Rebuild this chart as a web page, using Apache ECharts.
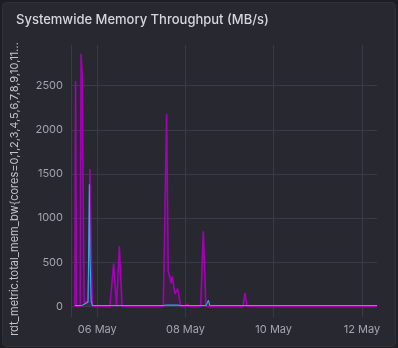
<!DOCTYPE html>
<html><head><meta charset="utf-8">
<script src="https://cdn.jsdelivr.net/npm/echarts@6/dist/echarts.min.js"></script>
<style>html,body{margin:0;padding:0;background:#1d1d23;}#c{width:398px;height:348px;}</style>
</head><body><div id="c"></div>
<script>
const times = [
  '2024-05-05 11:50','2024-05-05 12:10','2024-05-05 12:45','2024-05-05 14:40','2024-05-05 15:10',
  '2024-05-05 15:50','2024-05-05 16:50','2024-05-05 17:40','2024-05-05 18:40','2024-05-05 19:00',
  '2024-05-05 19:40','2024-05-05 20:00','2024-05-05 20:40','2024-05-05 21:20',
  '2024-05-06 06:50','2024-05-06 08:55','2024-05-06 10:30','2024-05-06 12:00','2024-05-06 13:30',
  '2024-05-07 11:55','2024-05-07 13:45','2024-05-07 14:35','2024-05-07 15:35','2024-05-07 16:05',
  '2024-05-07 16:50','2024-05-07 18:15','2024-05-07 19:45','2024-05-07 20:30','2024-05-07 21:25',
  '2024-05-08 00:20','2024-05-08 01:00','2024-05-08 01:40',
  '2024-05-08 08:16','2024-05-08 09:41','2024-05-08 11:09',
  '2024-05-08 12:05','2024-05-08 12:31','2024-05-08 13:10',
  '2024-05-09 07:16','2024-05-09 08:22','2024-05-09 09:28',
  '2024-05-12 08:13'
];
const memBwMagenta = [
  0, 2550, 0, 0, 2860,
  2600, 40, 50, 60, 70,
  500, 1557, 700, 0,
  0, 485, 0, 682, 0,
  0, 2180, 400, 333, 261,
  341, 144, 201, 182, 0,
  0, 30, 0,
  0, 850, 0,
  0, 0, 0,
  0, 150, 0,
  0
];
const memBwBlue = [
  12, 12, 12, 12, 12,
  14, 20, 35, 45, 50,
  1383, 600, 60, 12,
  12, 12, 12, 12, 12,
  12, 15, 15, 15, 15,
  15, 15, 15, 15, 12,
  12, 12, 12,
  12, 12, 12,
  12, 70, 12,
  12, 12, 12,
  12
];
const yTicks = [0, 500, 1000, 1500, 2000, 2500];
const xTicks = ['2024-05-06 00:00','2024-05-08 00:00','2024-05-10 00:00','2024-05-12 00:00'];

const gridColor = '#393a44';
const labelColor = '#a3a4ad';
const chart = echarts.init(document.getElementById('c'), null, {renderer: 'canvas'});
chart.setOption({
  backgroundColor: '#1d1d23',
  animation: false,
  graphic: [{
    type: 'rect', z: -10, silent: true,
    shape: {x: 2.5, y: 2.5, width: 393, height: 344, r: 4},
    style: {fill: '#282831', stroke: '#303139', lineWidth: 1}
  }],
  title: {
    text: 'Systemwide Memory Throughput (MB/s)',
    left: 16, top: 14, padding: 0,
    textStyle: {color: '#d6d7de', fontSize: 13, fontWeight: 500, fontFamily: 'Inter'}
  },
  grid: {left: 71, right: 21, top: 45, bottom: 31, containLabel: false},
  xAxis: {
    type: 'time',
    min: '2024-05-05 09:42', max: '2024-05-12 08:13',
    axisLine: {show: false},
    axisTick: {show: false, customValues: xTicks},
    axisLabel: {customValues: xTicks, formatter: '{dd} {MMM}', color: labelColor, fontSize: 11, fontFamily: 'Inter', margin: 7},
    splitLine: {show: true, lineStyle: {color: gridColor, width: 1}}
  },
  yAxis: {
    type: 'value',
    min: -119, max: 2960,
    name: 'rdt_metric.total_mem_bw{cores=0,1,2,3,4,5,6,7,8,9,10,11…',
    nameLocation: 'middle', nameRotate: 90, nameGap: 51,
    nameTextStyle: {color: '#c4c5ce', fontSize: 11, fontFamily: 'Inter', padding: [0, 16, 0, 0]},
    axisLine: {show: true, lineStyle: {color: gridColor, width: 1}},
    axisTick: {show: false, customValues: yTicks},
    axisLabel: {customValues: yTicks, formatter: v => String(v), color: labelColor, fontSize: 11, fontFamily: 'Inter', margin: 8},
    splitLine: {show: true, lineStyle: {color: gridColor, width: 1}}
  },
  series: [
    {
      name: 'magenta', type: 'line', showSymbol: false,
      data: times.map((t, i) => [t, memBwMagenta[i]]),
      lineStyle: {color: '#a400b6', width: 1.6},
      itemStyle: {color: '#a400b6'},
      areaStyle: {color: 'rgba(160,0,180,0.16)'}
    },
    {
      name: 'blue', type: 'line', showSymbol: false,
      data: times.map((t, i) => [t, memBwBlue[i]]),
      lineStyle: {color: '#3aa7e6', width: 1.1},
      itemStyle: {color: '#3aa7e6'},
      areaStyle: {color: 'rgba(58,167,230,0.12)'}
    }
  ]
});
</script></body></html>
